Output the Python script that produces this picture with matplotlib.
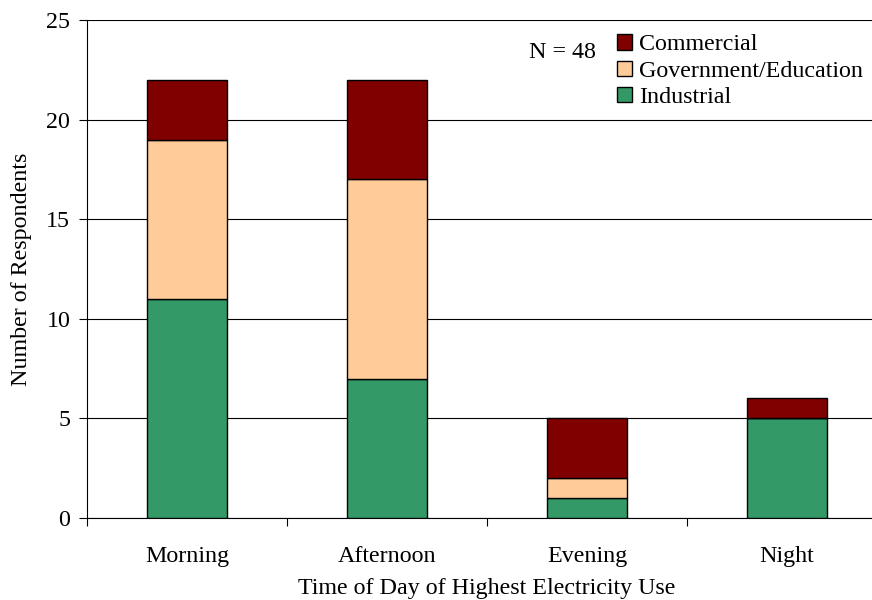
import matplotlib.pyplot as plt
import numpy as np

plt.rcParams['font.family'] = ['Liberation Serif', 'DejaVu Serif']

categories = ["Morning", "Afternoon", "Evening", "Night"]
industrial = [11, 7, 1, 5]
government = [8, 10, 1, 0]
commercial = [3, 5, 3, 1]

fs = 17.3

fig = plt.figure(figsize=(8.72, 6.0), dpi=100)
ax = fig.add_axes([87 / 872, 82 / 600, 800 / 872, 498 / 600])

x = np.arange(len(categories))
w = 0.4
gov_bottom = np.array(industrial)
com_bottom = gov_bottom + np.array(government)

ax.bar(x, industrial, w, color="#339966", edgecolor="black", linewidth=1, label="Industrial", zorder=3)
ax.bar(x, government, w, bottom=gov_bottom, color="#FFCC99", edgecolor="black", linewidth=1,
       label="Government/Education", zorder=3)
ax.bar(x, commercial, w, bottom=com_bottom, color="#800000", edgecolor="black", linewidth=1,
       label="Commercial", zorder=3)

ax.set_xlim(-0.5, 3.5)
ax.set_ylim(0, 25)
ax.set_yticks(range(0, 26, 5))
ax.yaxis.grid(True, color="black", linewidth=0.8, zorder=0)

# ticks sit between categories, labels at centres
ax.set_xticks(np.arange(-0.5, 4, 1))
ax.set_xticklabels([])
ax.set_xticks(x, minor=True)
ax.set_xticklabels(categories, minor=True)
ax.tick_params(axis="x", which="minor", length=0, pad=20, labelsize=fs)
ax.tick_params(axis="x", which="major", length=6, direction="out")
ax.tick_params(axis="y", length=6, direction="out", labelsize=fs, pad=6)

for s in ["top", "right"]:
    ax.spines[s].set_visible(False)

ax.set_xlabel("Time of Day of Highest Electricity Use", fontsize=fs, labelpad=8)
ax.set_ylabel("Number of Respondents", fontsize=fs, labelpad=10)

handles, labels = ax.get_legend_handles_labels()
ax.legend(handles[::-1], labels[::-1], loc="upper left", bbox_to_anchor=(0.642, 1.005),
          frameon=False, fontsize=fs, handlelength=0.6, handleheight=0.6,
          handletextpad=0.3, labelspacing=0.22, borderaxespad=0.3)

ax.text(0.553, 0.935, "N = 48", transform=ax.transAxes, fontsize=fs, ha="left", va="center")

fig.savefig("out.png", dpi=100)
